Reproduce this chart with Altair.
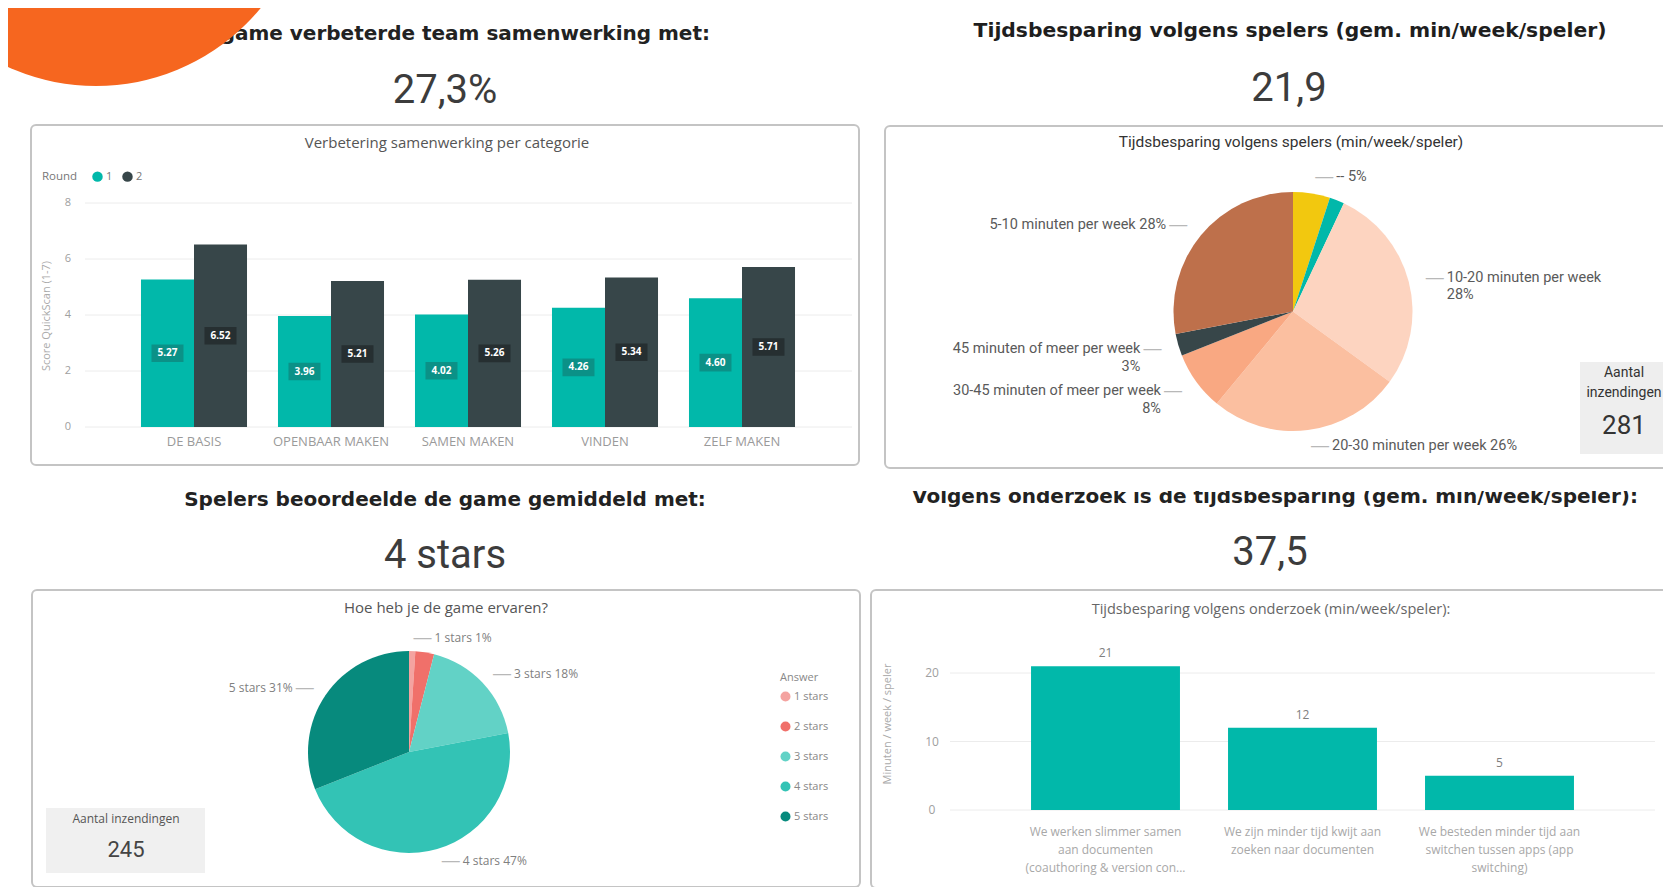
import altair as alt
import pandas as pd

# ---------------- content / data ----------------
header_1 = "De game verbeterde team samenwerking met:"
kpi_1 = "27,3%"
header_2 = "Tijdsbesparing volgens spelers (gem. min/week/speler)"
kpi_2 = "21,9"
header_3 = "Spelers beoordeelde de game gemiddeld met:"
kpi_3 = "4 stars"
header_4 = "Volgens onderzoek is de tijdsbesparing (gem. min/week/speler):"
kpi_4 = "37,5"

# top-left grouped bars
title_bar1 = "Verbetering samenwerking per categorie"
categories = ["DE BASIS", "OPENBAAR MAKEN", "SAMEN MAKEN", "VINDEN", "ZELF MAKEN"]
rounds = ["1", "2"]
round_1 = [5.27, 3.96, 4.02, 4.26, 4.60]
round_2 = [6.52, 5.21, 5.26, 5.34, 5.71]
y_ticks_1 = [0, 2, 4, 6, 8]
y_title_1 = "Score QuickScan (1-7)"
legend_title_1 = "Round"

# top-right pie
title_pie1 = "Tijdsbesparing volgens spelers (min/week/speler)"
pie1_cats = ["--", "0-5 minuten per week", "10-20 minuten per week", "20-30 minuten per week",
             "30-45 minuten of meer per week", "45 minuten of meer per week", "5-10 minuten per week"]
pie1_vals = [5, 2, 28, 26, 8, 3, 28]
pie1_show = [True, False, True, True, True, True, True]
pie1_wrap = [False, False, True, False, True, True, False]
pie1_colors = ["#F2C80F", "#01B8AA", "#FDD4C0", "#FBBFA0", "#F9A882", "#374649", "#BE704B"]
count_label = "Aantal inzendingen"
count_1 = 281

# bottom-left pie
title_pie2 = "Hoe heb je de game ervaren?"
stars_cats = ["1 stars", "2 stars", "3 stars", "4 stars", "5 stars"]
stars_vals = [1, 3, 18, 47, 31]
stars_show = [True, False, True, True, True]
stars_colors = ["#F4A3A0", "#F0706A", "#62D2C6", "#33C3B5", "#078A7D"]
legend_title_2 = "Answer"
count_2 = 245

# bottom-right bars
title_bar4 = "Tijdsbesparing volgens onderzoek (min/week/speler):"
research_cats = ["We werken slimmer samen\naan documenten\n(coauthoring & version con...",
                 "We zijn minder tijd kwijt aan\nzoeken naar documenten",
                 "We besteden minder tijd aan\nswitchen tussen apps (app\nswitching)"]
research_vals = [21, 12, 5]
y_ticks_4 = [0, 10, 20]
y_title_4 = "Minuten / week / speler"

# ---------------- styling ----------------
W, H = 1655, 879
def X(v):
    return v - 8
def Y(v):
    return v - 8

SEG = "Open Sans"
DIN = "Roboto"
HDR = "DejaVu Sans"
TEAL = "#01B8AA"
DARK = "#374649"
ORANGE = "#F6661F"
BOX = "#c4c4c4"

layers = []

def txt(s, x, y, size, color, font=SEG, weight="normal", align="center", baseline="middle", angle=None):
    mk = dict(align=align, baseline=baseline, fontSize=size, color=color, font=font, fontWeight=weight)
    if angle is not None:
        mk["angle"] = angle
    return alt.Chart(alt.Data(values=[{"t": s}])).mark_text(**mk).encode(
        x=alt.value(X(x)), y=alt.value(Y(y)), text="t:N")

def box(x0, y0, x1, y1, fill="white", stroke=None, sw=2, r=5):
    mk = dict(fill=fill, cornerRadius=r)
    if stroke is not None:
        mk["stroke"] = stroke
        mk["strokeWidth"] = sw
    else:
        mk["strokeWidth"] = 0
    return alt.Chart(alt.Data(values=[{"k": 1}])).mark_rect(**mk).encode(
        x=alt.value(X(x0)), x2=alt.value(X(x1)), y=alt.value(Y(y0)), y2=alt.value(Y(y1)))

# headers
layers.append(txt(header_1, 710, 39.5, 20, "#222", font=HDR, weight="bold", align="right", baseline="alphabetic"))
layers.append(txt(kpi_1, 445, 91, 40, "#3c3c3c", font=DIN))
layers.append(txt(header_2, 1290, 37, 20.3, "#1e1e1e", font=HDR, weight="bold", baseline="alphabetic"))
layers.append(txt(kpi_2, 1289, 89, 40, "#3c3c3c", font=DIN))
layers.append(txt(header_3, 445, 506, 20, "#222", font=HDR, weight="bold", baseline="alphabetic"))
layers.append(txt(kpi_3, 445, 556, 40, "#3c3c3c", font=DIN))
layers.append(txt(header_4, 1275, 502.5, 20, "#222", font=HDR, weight="bold", baseline="alphabetic"))
layers.append(txt(kpi_4, 1270, 553, 40, "#3c3c3c", font=DIN))
layers.append(box(875, 455, 1680, 491))

# panel boxes
layers.append(box(31, 125, 859, 465, stroke=BOX))
layers.append(box(885, 126, 1690, 468, stroke=BOX))
layers.append(box(32, 590, 860, 887, stroke=BOX))
layers.append(box(871, 590, 1667, 888, stroke=BOX))

# ---------- top-left grouped bar chart ----------
layers.append(txt(title_bar1, 447, 143, 15, "#555"))
layers.append(txt(legend_title_1, 42, 177, 11.5, "#777", align="left"))
layers.append(txt(y_title_1, 47, 316, 11, "#aaa", angle=270))

x1 = alt.Scale(domain=categories, range=[X(125.5), X(810.5)], paddingInner=0.226, paddingOuter=0.113)
y1 = alt.Scale(domain=[0, 8], range=[Y(427), Y(203)], nice=False, zero=False)
xo1 = alt.Scale(domain=rounds, paddingInner=0, paddingOuter=0)

ticks1 = pd.DataFrame({"t": y_ticks_1})
layers.append(alt.Chart(ticks1).mark_rule(color="#ececec", strokeWidth=1).encode(
    y=alt.Y("t:Q", scale=y1, axis=None), x=alt.value(X(85)), x2=alt.value(X(852))))
layers.append(alt.Chart(ticks1).mark_text(align="center", baseline="middle", fontSize=11, color="#a0a0a0", font=SEG).encode(
    y=alt.Y("t:Q", scale=y1, axis=None), x=alt.value(X(68)), text="t:N"))

bar1 = pd.DataFrame({"cat": categories * 2, "round": [rounds[0]] * 5 + [rounds[1]] * 5,
                     "value": round_1 + round_2})
bar1["mid"] = bar1["value"] / 2
bar1["label"] = bar1["value"].map(lambda v: f"{v:.2f}")

layers.append(alt.Chart(bar1).mark_bar().encode(
    x=alt.X("cat:N", scale=x1, axis=None),
    xOffset=alt.XOffset("round:N", scale=xo1),
    y=alt.Y("value:Q", scale=y1, axis=None),
    color=alt.Color("round:N", scale=alt.Scale(domain=rounds, range=[TEAL, DARK]),
                    legend=alt.Legend(title=None, orient="none", legendX=X(92), legendY=Y(171),
                                      direction="horizontal", symbolType="circle", symbolSize=110,
                                      symbolStrokeWidth=0, labelFontSize=11, labelColor="#777",
                                      labelFont=SEG, columnPadding=9, labelOffset=3))))

# label plates behind the in-bar values (symbol path units: 1 unit = 16 px at size 1024)
label_box_colors = ["#0B9187", "#262F31"]
label_box_paths = ["M-2.656,-0.55H-0.656V0.55H-2.656Z", "M0.656,-0.55H2.656V0.55H0.656Z"]
for rd, shift, bc, pth in zip(rounds, (-26.5, 26.5), label_box_colors, label_box_paths):
    sub = alt.Chart(bar1).transform_filter(alt.datum["round"] == rd)
    layers.append(sub.mark_point(filled=True, opacity=1, shape=pth, size=1024, color=bc).encode(
        x=alt.X("cat:N", scale=x1, axis=None), y=alt.Y("mid:Q", scale=y1, axis=None)))
    layers.append(sub.mark_text(fontSize=10, fontWeight="bold", color="white", font=SEG, dx=shift).encode(
        x=alt.X("cat:N", scale=x1, axis=None), y=alt.Y("mid:Q", scale=y1, axis=None), text="label:N"))

layers.append(alt.Chart(pd.DataFrame({"cat": categories})).mark_text(fontSize=13, color="#9a9a9a", font=SEG).encode(
    x=alt.X("cat:N", scale=x1, axis=None), y=alt.value(Y(442)), text="cat:N"))

# ---------- pies ----------
def pie_frame(cats, vals, show, wrap=None):
    df = pd.DataFrame({"cat": cats, "value": vals})
    df["idx"] = range(len(df))
    tot = df["value"].sum()
    mid = ((df["value"].cumsum() - df["value"] / 2) / tot).tolist()
    wrap = wrap or [False] * len(cats)
    lbl = [(f"{c}\n{v}%" if w else f"{c} {v}%") if s else "" for c, v, s, w in zip(cats, vals, show, wrap)]
    df["lbl_r"] = [l if m <= 0.5 else "" for l, m in zip(lbl, mid)]
    df["lbl_l"] = [l if m > 0.5 else "" for l, m in zip(lbl, mid)]
    df["lead_r"] = ["\u2014" if (s and m <= 0.5) else "" for s, m in zip(show, mid)]
    df["lead_l"] = ["\u2014" if (s and m > 0.5) else "" for s, m in zip(show, mid)]
    return df

def pie_layers(df, domain, colors, cx, cy, r, rl, dx, font, size, color, legend=None):
    base = alt.Chart(df).encode(
        theta=alt.Theta("value:Q", stack=True),
        order=alt.Order("idx:Q"),
        x=alt.value(X(cx)), y=alt.value(Y(cy)))
    out = [base.mark_arc(radius=r).encode(
        color=alt.Color("cat:N", scale=alt.Scale(domain=domain, range=colors), legend=legend))]
    for side, al, sgn in (("r", "left", 1), ("l", "right", -1)):
        out.append(base.mark_text(radius=rl, align=al, baseline="middle", fontSize=20, color="#b8b8b8",
                                  font="DejaVu Sans").encode(text=f"lead_{side}:N"))
        out.append(base.mark_text(radius=rl, align=al, baseline="middle", dx=sgn * dx, fontSize=size,
                                  color=color, font=font, lineBreak="\n", lineHeight=size + 3).encode(
            text=f"lbl_{side}:N"))
    return out

pie1 = pie_frame(pie1_cats, pie1_vals, pie1_show, pie1_wrap)
layers.append(txt(title_pie1, 1291, 142, 15.5, "#333", font=DIN))
layers += pie_layers(pie1, pie1_cats, pie1_colors, 1293, 311.5, 119.5, 136, 22, DIN, 14.5, "#5a5a5a")
layers.append(box(1580, 362, 1690, 454, fill="#eeeeee", r=0))
layers.append(txt("Aantal", 1624, 373, 14, "#333", font=DIN))
layers.append(txt("inzendingen", 1624, 393, 14, "#333", font=DIN))
layers.append(txt(str(count_1), 1624, 426, 26, "#333", font=DIN))

pie2 = pie_frame(stars_cats, stars_vals, stars_show)
layers.append(txt(title_pie2, 446, 608, 15, "#555"))
layers += pie_layers(pie2, stars_cats, stars_colors, 409, 752, 101, 114, 22, SEG, 12, "#808080",
                     legend=alt.Legend(title=legend_title_2, orient="none", legendX=X(780), legendY=Y(672),
                                       direction="vertical", symbolType="circle", symbolSize=100,
                                       symbolStrokeWidth=0, labelFontSize=11, labelColor="#888",
                                       titleFontSize=11, titleColor="#888", titleFontWeight="normal",
                                       titleFont=SEG, labelFont=SEG, rowPadding=18, titlePadding=8,
                                       labelOffset=3))
layers.append(box(46, 808, 205, 873, fill="#f0f0f0", r=0))
layers.append(txt(count_label, 126, 819, 12, "#555"))
layers.append(txt(str(count_2), 126, 850, 22, "#444", font=DIN))

# ---------- bottom-right bar chart ----------
layers.append(txt(title_bar4, 1271, 610, 14.5, "#666"))
layers.append(txt(y_title_4, 888, 724, 11, "#aaa", angle=270))
x4 = alt.Scale(domain=research_cats, range=[X(1007), X(1598)], paddingInner=0.244, paddingOuter=0.122)
y4 = alt.Scale(domain=[0, 20], range=[Y(810), Y(673)], nice=False, zero=False)
ticks4 = pd.DataFrame({"t": y_ticks_4})
layers.append(alt.Chart(ticks4).mark_rule(color="#ececec", strokeWidth=1).encode(
    y=alt.Y("t:Q", scale=y4, axis=None), x=alt.value(X(950)), x2=alt.value(X(1655))))
layers.append(alt.Chart(ticks4).mark_text(align="center", baseline="middle", fontSize=12, color="#a0a0a0", font=SEG).encode(
    y=alt.Y("t:Q", scale=y4, axis=None), x=alt.value(X(932)), text="t:N"))
bar4 = pd.DataFrame({"cat": research_cats, "value": research_vals})
layers.append(alt.Chart(bar4).mark_bar(color=TEAL).encode(
    x=alt.X("cat:N", scale=x4, axis=None), y=alt.Y("value:Q", scale=y4, axis=None)))
layers.append(alt.Chart(bar4).mark_text(dy=-13, fontSize=12, color="#808080", font=SEG).encode(
    x=alt.X("cat:N", scale=x4, axis=None), y=alt.Y("value:Q", scale=y4, axis=None), text="value:Q"))
layers.append(alt.Chart(bar4).mark_text(baseline="top", fontSize=12, color="#a8a8a8", font=SEG,
                                        lineBreak="\n", lineHeight=18).encode(
    x=alt.X("cat:N", scale=x4, axis=None), y=alt.value(Y(827)), text="cat:N"))

# orange decoration on top
layers.append(alt.Chart(alt.Data(values=[{"k": 1}])).mark_point(
    shape="circle", filled=True, opacity=1, size=426 * 426, color=ORANGE).encode(
    x=alt.value(X(96)), y=alt.value(Y(-127))))

chart = alt.layer(*layers).resolve_scale(
    x="independent", y="independent", color="independent", theta="independent", xOffset="independent"
).properties(
    width=W, height=H, padding=0, background="white",
    autosize=alt.AutoSizeParams(type="none")
).configure_view(stroke=None)

chart.save("out.html", embed_options={"renderer": "svg", "actions": False})
